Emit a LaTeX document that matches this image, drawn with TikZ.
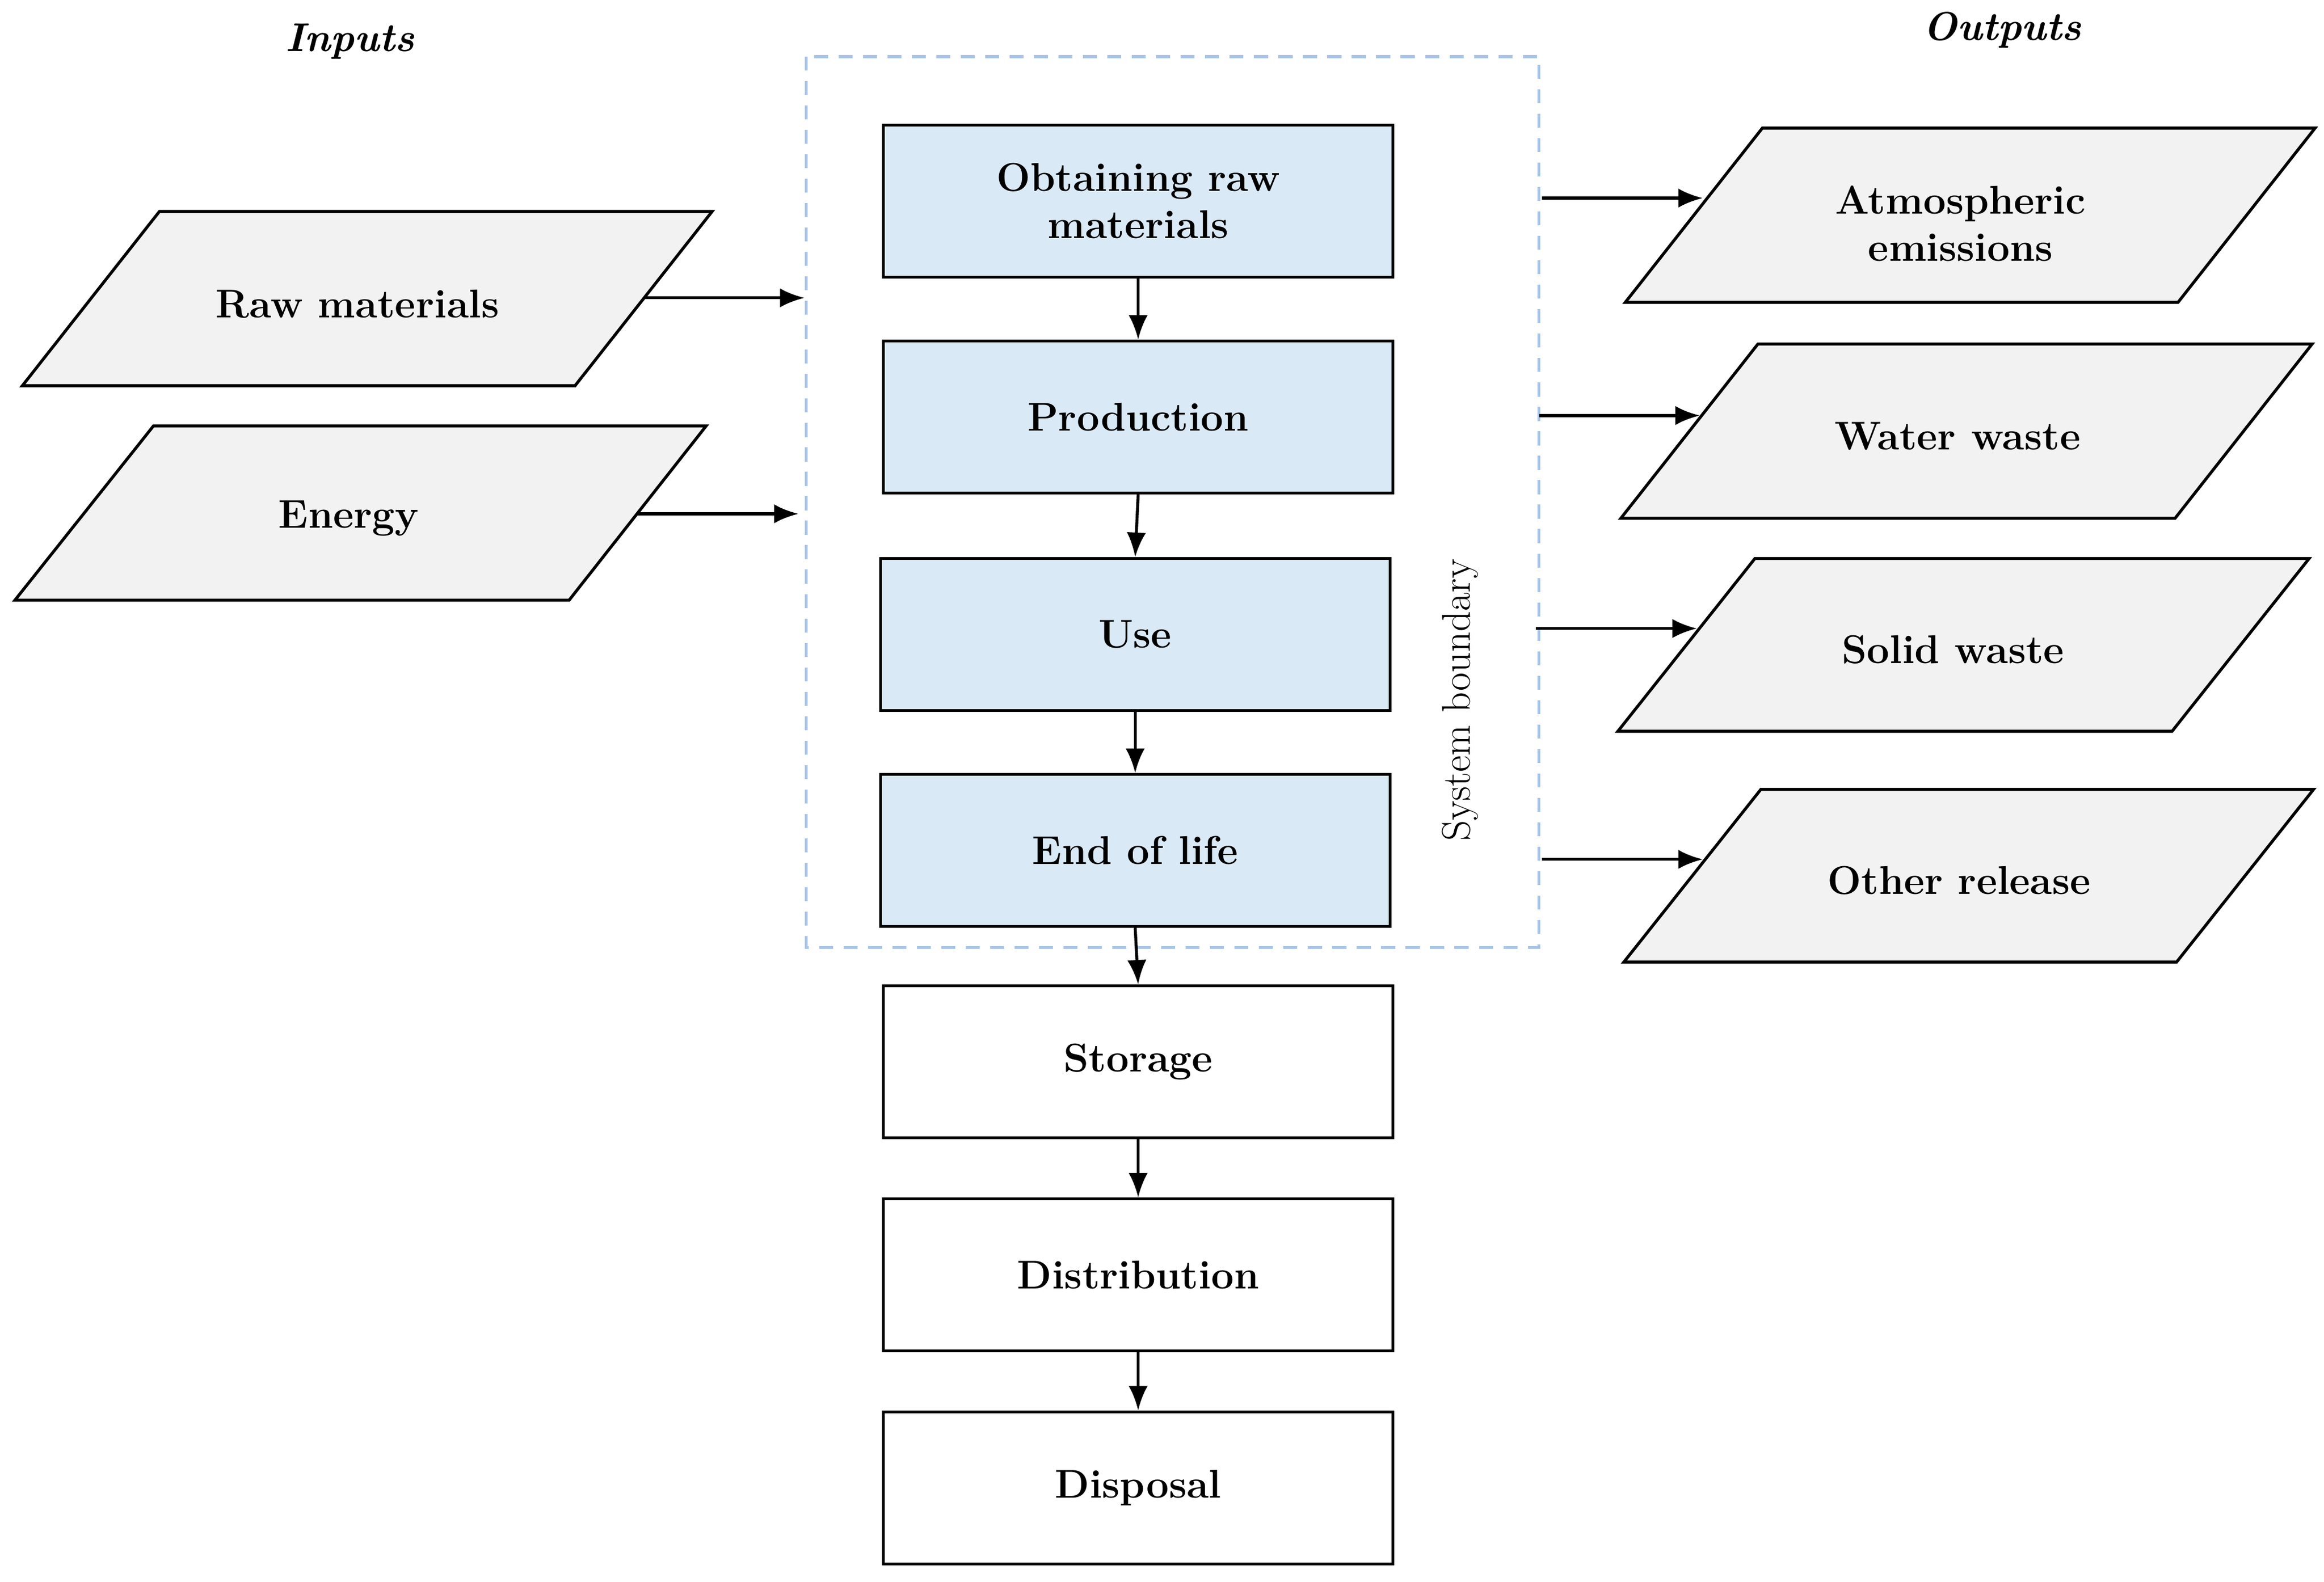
\documentclass[tikz,border=0pt]{standalone}
\usetikzlibrary{arrows.meta}
\definecolor{bluebox}{HTML}{DAE9F6}
\definecolor{greyp}{HTML}{F2F2F2}
\definecolor{bound}{HTML}{A9C4E8}
\begin{document}
\begin{tikzpicture}[x=0.03cm,y=-0.03cm,
  txt/.style={font=\fontsize{23}{27}\selectfont\bfseries,align=center},
  box/.style={draw,line width=1.7pt,minimum width=10.26cm,minimum height=3.06cm,txt},
  bbox/.style={box,fill=bluebox},
  wbox/.style={box,fill=white},
  par/.style={draw,line width=1.7pt,fill=greyp},
  arr/.style={-{Latex[length=14pt,width=11pt]},line width=1.7pt}]
\useasboundingbox (0,0) rectangle (1560,1062);
\draw[bound,line width=1.6pt,dash pattern=on 8pt off 6pt] (541,38) rectangle (1033,636);
\node[bbox] (obt) at (764,135) {Obtaining raw\\materials};
\node[bbox] (prod) at (764,280) {Production};
\node[bbox] (use) at (762,426) {Use};
\node[bbox] (eol) at (762,571) {End of life};
\node[wbox] (sto) at (764,713) {Storage};
\node[wbox] (dis) at (764,856) {Distribution};
\node[wbox] (disp) at (764,999) {Disposal};
\foreach \a/\b in {obt/prod,prod/use,use/eol,eol/sto,sto/dis,dis/disp}
  \draw[arr] (\a.south) -- (\b.north);
% inputs
\draw[par] (107,142) -- (478,142) -- (386,259) -- (15,259) -- cycle;
\node[txt] (raw) at (240,204) {Raw materials};
\draw[par] (103,286) -- (474,286) -- (382,403) -- (10,403) -- cycle;
\node[txt] (en) at (234,348) {Energy};
\coordinate (r1) at (432,200); \coordinate (r2) at (540,200);
\coordinate (e1) at (428,345); \coordinate (e2) at (536,345);
\draw[arr] (r1) -- (r2);
\draw[arr] (e1) -- (e2);
% outputs
\draw[par] (1183,86) -- (1554,86) -- (1462,203) -- (1091,203) -- cycle;
\node[txt] (atm) at (1316,150) {Atmospheric\\emissions};
\draw[par] (1180,231) -- (1552,231) -- (1460,348) -- (1088,348) -- cycle;
\node[txt] (ww) at (1314,293) {Water waste};
\draw[par] (1178,375) -- (1550,375) -- (1458,491) -- (1086,491) -- cycle;
\node[txt] (sw) at (1311,436) {Solid waste};
\draw[par] (1182,530) -- (1553,530) -- (1461,646) -- (1090,646) -- cycle;
\node[txt] (or) at (1315,591) {Other release};
\coordinate (a1) at (1035,133); \coordinate (a2) at (1143,133);
\coordinate (w1) at (1033,279); \coordinate (w2) at (1141,279);
\coordinate (s1) at (1031,422); \coordinate (s2) at (1139,422);
\coordinate (o1) at (1035,577); \coordinate (o2) at (1143,577);
\draw[arr] (a1) -- (a2);
\draw[arr] (w1) -- (w2);
\draw[arr] (s1) -- (s2);
\draw[arr] (o1) -- (o2);
% labels
\node[txt,font=\fontsize{23}{27}\selectfont\bfseries\itshape] (inl) at (235,28) {Inputs};
\node[txt,font=\fontsize{23}{27}\selectfont\bfseries\itshape] (outl) at (1344,20) {Outputs};
\node[font=\fontsize{23}{27}\selectfont,rotate=90] (sb) at (980,470) {System boundary};
\end{tikzpicture}
\end{document}
